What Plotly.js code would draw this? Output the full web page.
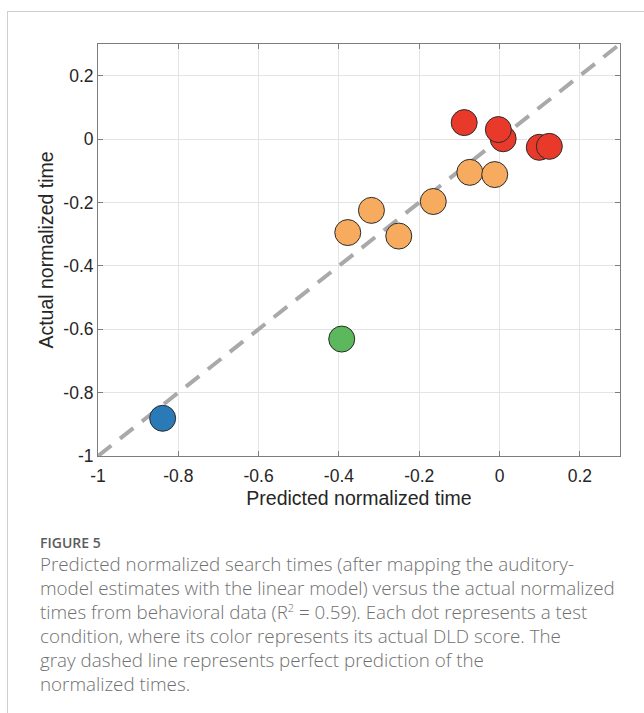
<!DOCTYPE html>
<html>
<head>
<meta charset="utf-8">
<script src="https://cdn.plot.ly/plotly-3.0.1.min.js"></script>
<style>
  html, body { margin: 0; padding: 0; background: #fff; }
  #wrap { position: relative; width: 644px; height: 713px; overflow: hidden; }
  #frame { position: absolute; left: 7px; top: 11px; width: 650px; height: 720px;
           border-top: 1px solid #cfcfcf; border-left: 1px solid #cfcfcf; }
  #plot { position: absolute; left: 0; top: 0; width: 644px; height: 713px; }
  #caption { position: absolute; left: 40px; top: 533px; width: 604px;
             font-family: "Open Sans", "Noto Sans", sans-serif; color: #707070; }
  #figlabel { font-size: 14px; font-weight: 600; color: #5c5c5c; line-height: 20px; }
  #captext { font-size: 18.8px; line-height: 24px; font-weight: 300; white-space: nowrap; margin-top: -1px; }
  #captext sup { font-size: 11px; line-height: 0; }
</style>
</head>
<body>
<div id="wrap">
  <div id="frame"></div>
  <div id="plot"></div>
  <div id="caption">
    <div id="figlabel">FIGURE 5</div>
    <div id="captext">Predicted normalized search times (after mapping the auditory-<br>model estimates with the linear model) versus the actual normalized<br>times from behavioral data (R<sup>2</sup> = 0.59). Each dot represents a test<br>condition, where its color represents its actual DLD score. The<br>gray dashed line represents perfect prediction of the<br>normalized times.</div>
  </div>
</div>
<script>
// Data
const predicted = [-0.839, -0.393, -0.378, -0.319, -0.251, -0.165, -0.074, -0.012, -0.088, 0.009, -0.003, 0.099, 0.124];
const actual    = [-0.881, -0.631, -0.295, -0.225, -0.306, -0.197, -0.105, -0.112, 0.052, 0.001, 0.030, -0.026, -0.023];
const dldGroup  = ["blue", "green", "orange", "orange", "orange", "orange", "orange", "orange", "red", "red", "red", "red", "red"];
const groupColors = { blue: "#2a7ab8", green: "#5cb85c", orange: "#f7ab5e", red: "#e8392b" };
const identityLine = [-1, 0.3];
const tickVals = [-1, -0.8, -0.6, -0.4, -0.2, 0, 0.2];
const tickText = ["-1", "-0.8", "-0.6", "-0.4", "-0.2", "0", "0.2"];

const lineTrace = {
  x: identityLine, y: identityLine, mode: "lines", type: "scatter",
  line: { color: "#a9a9a9", width: 4, dash: "17px,11px" },
  hoverinfo: "skip", showlegend: false
};
const dotTrace = {
  x: predicted, y: actual, mode: "markers", type: "scatter",
  marker: { size: 26, color: dldGroup.map(g => groupColors[g]),
            line: { color: "#2b2b2b", width: 1 }, opacity: 1 },
  showlegend: false
};

const axisCommon = {
  range: [-1, 0.3], tickvals: tickVals, ticktext: tickText,
  showgrid: true, gridcolor: "#e4e4e4", gridwidth: 1,
  zeroline: false, showline: true, linecolor: "#7d7d7d", linewidth: 1,
  mirror: "allticks", ticks: "inside", ticklen: 5, tickcolor: "#7d7d7d", tickwidth: 1,
  tickfont: { family: "Liberation Sans, Arial, sans-serif", size: 17.5, color: "#262626" },
  fixedrange: true
};

const layout = {
  width: 644, height: 713,
  margin: { l: 98, r: 24, t: 44, b: 257 },
  paper_bgcolor: "rgba(0,0,0,0)", plot_bgcolor: "#ffffff",
  xaxis: Object.assign({}, axisCommon, {
    ticklabelstandoff: 4,
    title: { text: "Predicted normalized time", standoff: 6,
             font: { family: "Liberation Sans, Arial, sans-serif", size: 19.5, color: "#262626" } }
  }),
  yaxis: Object.assign({}, axisCommon, {
    title: { text: "Actual normalized time", standoff: 4,
             font: { family: "Liberation Sans, Arial, sans-serif", size: 19.5, color: "#262626" } }
  }),
  showlegend: false
};

Plotly.newPlot("plot", [lineTrace, dotTrace], layout, { displayModeBar: false, staticPlot: true });
</script>
</body>
</html>
